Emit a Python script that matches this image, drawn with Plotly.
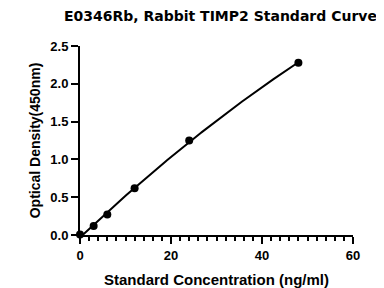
import numpy as np
import plotly.graph_objects as go

concentration = [0, 3, 6, 12, 24, 48]
od_values = [0.005, 0.12, 0.27, 0.62, 1.25, 2.28]

# smooth fitted curve (quadratic fit through the standards)
coef = np.polyfit(concentration, od_values, 2)
xs = np.linspace(0, 48, 200)
ys = np.polyval(coef, xs)

fig = go.Figure()
fig.add_trace(go.Scatter(x=xs, y=ys, mode="lines",
                         line=dict(color="black", width=2), hoverinfo="skip",
                         cliponaxis=False))
fig.add_trace(go.Scatter(x=concentration, y=od_values, mode="markers",
                         marker=dict(color="black", size=8), cliponaxis=False))

font_family = "Liberation Sans, Arial, sans-serif"
fig.update_layout(
    width=376, height=280,
    margin=dict(l=72, r=31, t=38, b=53, autoexpand=False),
    paper_bgcolor="white", plot_bgcolor="white",
    showlegend=False,
    title=dict(text="<b>E0346Rb, Rabbit TIMP2 Standard Curve</b>",
               x=0.565, xanchor="center", y=0.972, yanchor="middle",
               font=dict(family="DejaVu Sans, sans-serif", size=14, color="black")),
    xaxis=dict(range=[0, 60], tickvals=[0, 20, 40, 60], ticktext=["<b>0</b>", "<b>20</b>", "<b>40</b>", "<b>60</b>"],
               showgrid=False, zeroline=False, showline=True, linecolor="black", linewidth=2,
               ticks="outside", ticklen=7, tickwidth=2, tickcolor="black", automargin=False,
               minor=dict(dtick=2, ticks="outside", ticklen=4, tickwidth=1.5, tickcolor="black"),
               tickfont=dict(family=font_family, size=13, color="black"),
               title=dict(text="<b>Standard Concentration (ng/ml)</b>", standoff=13,
                          font=dict(family=font_family, size=15, color="black"))),
    yaxis=dict(range=[0, 2.5], tickvals=[0, 0.5, 1.0, 1.5, 2.0, 2.5],
               ticktext=["<b>0.0</b>", "<b>0.5</b>", "<b>1.0</b>", "<b>1.5</b>", "<b>2.0</b>", "<b>2.5</b>"],
               showgrid=False, zeroline=False, showline=True, linecolor="black", linewidth=2,
               ticks="outside", ticklen=7, tickwidth=2, tickcolor="black", automargin=False,
               tickfont=dict(family=font_family, size=13, color="black"),
               title=dict(text="<b>Optical Density(450nm)</b>", standoff=6,
                          font=dict(family=font_family, size=14, color="black"))),
)

fig.write_html("out.html")
